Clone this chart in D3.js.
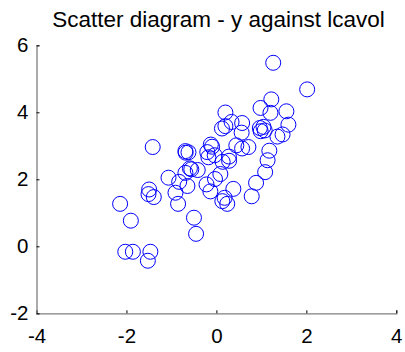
<!DOCTYPE html>
<html>
<head>
<meta charset="utf-8">
<script src="https://cdn.jsdelivr.net/npm/d3@7"></script>
<style>
  html, body { margin: 0; padding: 0; background: #fff; }
  svg { display: block; }
  text { font-family: "Liberation Sans", Arial, Helvetica, sans-serif; fill: #000; }
</style>
</head>
<body>
<svg id="chart" width="405" height="352"></svg>
<script>
// Standardised lcavol (x) and lpsa (y) for the training observations
const lcavol = [
  -1.524, -1.857, -1.468, -2.026, -0.452, -1.902, -0.499, -0.852, -2.141, 0.241,
   0.132,  0.183, -1.392,  0.785, -1.510, -0.910, -0.134, -1.496,  0.377, -0.644,
  -0.220,  0.882, -0.828, -0.031, -1.065,  0.088, -0.689,  1.084, -0.415, -0.558,
  -0.589,  0.139,  0.282,  1.138, -0.178,  0.279, -0.038, -0.684, -0.621, -0.203,
  -0.689,  1.177,  0.571,  0.712, -1.416, -0.096,  0.443, -0.124,  1.357,  1.471,
   0.561,  0.985,  1.074,  0.124,  0.966,  1.047,  0.200,  1.601,  0.572,  0.337,
   1.202,  0.200,  1.556,  0.981,  1.221,  2.018,  1.263
];
const lpsa = [
  -0.431, -0.163, -0.163, -0.163, 0.372, 0.765, 0.854, 1.267, 1.267, 1.267,
   1.348,  1.447,  1.470,  1.493, 1.558, 1.599, 1.639, 1.696, 1.714, 1.800,
   1.848,  1.895,  1.924,  2.008, 2.048, 2.158, 2.192, 2.214, 2.277, 2.298,
   2.327,  2.522,  2.553,  2.569, 2.657, 2.678, 2.718, 2.794, 2.806, 2.812,
   2.842,  2.854,  2.920,  2.963, 2.963, 2.973, 3.013, 3.037, 3.275, 3.338,
   3.393,  3.436,  3.458,  3.516, 3.531, 3.565, 3.588, 3.631, 3.680, 3.712,
   3.984,  3.994,  4.030,  4.130, 4.385, 4.684, 5.478
];
const xTicks = [-4, -2, 0, 2, 4];
const yTicks = [-2, 0, 2, 4, 6];
const title = "Scatter diagram - y against lcavol";

const points = lcavol.map((v, i) => ({ x: v, y: lpsa[i] }));

const svg = d3.select("#chart");
const margin = { left: 36.5, right: 8.7, top: 45.3, bottom: 38.7 };
const W = 405, H = 352;

const x = d3.scaleLinear().domain([-4, 4]).range([margin.left, W - margin.right]);
const y = d3.scaleLinear().domain([-2, 6]).range([H - margin.bottom, margin.top]);

// Plain hyphen for negative tick labels
const fmt = d => String(d);

// Title
svg.append("text")
  .attr("x", 218.5)
  .attr("y", 27)
  .attr("text-anchor", "middle")
  .style("font-size", "22.5px")
  .text(title);

// Bottom axis: ticks point inward
const xAxis = d3.axisBottom(x).tickValues(xTicks).tickSize(-3).tickPadding(15)
  .tickFormat(fmt);
const gx = svg.append("g")
  .attr("transform", `translate(0,${y(-2)})`)
  .call(xAxis);
gx.select(".domain").attr("stroke", "#7f7f7f").attr("stroke-width", 1.3);
gx.selectAll(".tick line").attr("stroke", "#000");
gx.selectAll(".tick text").style("font-size", "20.5px").attr("dy", "0.71em");

// Left axis
const yAxis = d3.axisLeft(y).tickValues(yTicks).tickSize(-3).tickPadding(8)
  .tickFormat(fmt);
const gy = svg.append("g")
  .attr("transform", `translate(${x(-4)},0)`)
  .call(yAxis);
gy.select(".domain").attr("stroke", "#7f7f7f").attr("stroke-width", 1.3);
gy.selectAll(".tick line").attr("stroke", "#000");
gy.selectAll(".tick text").style("font-size", "20.5px");

// Markers
svg.append("g")
  .selectAll("circle")
  .data(points)
  .join("circle")
  .attr("cx", d => x(d.x))
  .attr("cy", d => y(d.y))
  .attr("r", 7.5)
  .attr("fill", "none")
  .attr("stroke", "#0000ff")
  .attr("stroke-width", 1);
</script>
</body>
</html>
